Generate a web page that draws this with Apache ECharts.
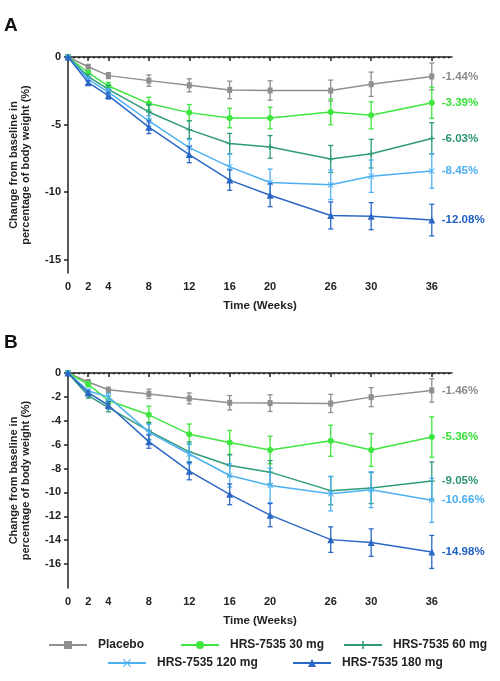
<!DOCTYPE html>
<html lang="en">
<head>
    <meta charset="UTF-8">
    <title>Body weight change</title>
    <script src="https://cdn.jsdelivr.net/npm/echarts@6/dist/echarts.min.js"></script>
    <style>
        * { margin: 0; padding: 0; box-sizing: border-box; }
        body { background: #fff; }
        #chart { width: 500px; height: 681px; }
    </style>
</head>
<body>
    <div id="chart"></div>
    <script>
        // data
        const weeks = [0, 2, 4, 8, 12, 16, 20, 26, 30, 36];
        const groups = ['Placebo', 'HRS-7535 30 mg', 'HRS-7535 60 mg', 'HRS-7535 120 mg', 'HRS-7535 180 mg'];

        // panel A: mean change (%) and error
        const aPlacebo = [0, -0.72, -1.38, -1.75, -2.1, -2.44, -2.48, -2.49, -2.02, -1.44];
        const a30 = [0, -1.15, -2.15, -3.45, -4.12, -4.52, -4.52, -4.07, -4.32, -3.39];
        const a60 = [0, -1.45, -2.4, -4.07, -5.38, -6.41, -6.66, -7.55, -7.16, -6.03];
        const a120 = [0, -1.65, -2.6, -4.74, -6.71, -8.14, -9.3, -9.47, -8.83, -8.45];
        const a180 = [0, -1.9, -2.86, -5.2, -7.23, -9.12, -10.24, -11.74, -11.79, -12.08];
        const aPlaceboErr = [0, 0.12, 0.22, 0.42, 0.48, 0.65, 0.72, 0.78, 0.9, 1.0];
        const a30Err = [0, 0.14, 0.27, 0.47, 0.6, 0.72, 0.8, 0.95, 1.0, 1.15];
        const a60Err = [0, 0.15, 0.3, 0.55, 0.65, 0.75, 0.84, 1.0, 1.06, 1.16];
        const a120Err = [0, 0.15, 0.25, 0.4, 0.6, 0.95, 1.0, 1.1, 1.2, 1.27];
        const a180Err = [0, 0.15, 0.25, 0.47, 0.6, 0.75, 0.85, 1.0, 1.0, 1.17];
        const aEndLabels = ['-1.44%', '-3.39%', '-6.03%', '-8.45%', '-12.08%'];
        const aTicks = [0, -5, -10, -15];

        // panel B
        const bPlacebo = [0, -0.75, -1.4, -1.75, -2.13, -2.49, -2.52, -2.55, -2.02, -1.46];
        const b30 = [0, -0.95, -2.3, -3.5, -5.12, -5.81, -6.45, -5.67, -6.45, -5.36];
        const b60 = [0, -1.9, -2.9, -4.85, -6.6, -7.75, -8.3, -9.85, -9.63, -9.05];
        const b120 = [0, -1.5, -2.0, -4.95, -6.78, -8.58, -9.41, -10.1, -9.77, -10.66];
        const b180 = [0, -1.65, -2.7, -5.75, -8.22, -10.16, -11.9, -13.95, -14.2, -14.98];
        const bPlaceboErr = [0, 0.12, 0.2, 0.39, 0.46, 0.6, 0.7, 0.76, 0.8, 0.98];
        const b30Err = [0, 0.2, 0.35, 0.72, 0.85, 1.0, 1.15, 1.3, 1.37, 1.69];
        const b60Err = [0, 0.2, 0.35, 0.72, 0.83, 0.9, 0.97, 1.18, 1.3, 1.6];
        const b120Err = [0, 0.15, 0.3, 0.66, 0.83, 0.97, 1.45, 1.45, 1.5, 1.85];
        const b180Err = [0, 0.15, 0.3, 0.55, 0.72, 0.87, 0.97, 1.07, 1.15, 1.38];
        const bEndLabels = ['-1.46%', '-5.36%', '-9.05%', '-10.66%', '-14.98%'];
        const bTicks = [0, -2, -4, -6, -8, -10, -12, -14, -16];

        const colors = ['#8f8f8f', '#3fe63f', '#2e9a7a', '#4db0f2', '#2b68c6'];
        const labelColors = ['#8a8a8a', '#36e036', '#2a9474', '#4aaef0', '#1f5fbf'];
        const symbols = [
            'rect',
            'circle',
            'path://M4,0H6V4H10V6H6V10H4V6H0V4H4Z',
            'path://M1,0L5,4L9,0L10,1L6,5L10,9L9,10L5,6L1,10L0,9L4,5L0,1Z',
            'triangle'
        ];
        const symbolSizes = [[5, 6], 6, 6, 6, 7];

        const font = 'Arial, "Liberation Sans", sans-serif';
        const chart = echarts.init(document.getElementById('chart'));

        const panels = [
            { means: [aPlacebo, a30, a60, a120, a180], errs: [aPlaceboErr, a30Err, a60Err, a120Err, a180Err], labels: aEndLabels },
            { means: [bPlacebo, b30, b60, b120, b180], errs: [bPlaceboErr, b30Err, b60Err, b120Err, b180Err], labels: bEndLabels }
        ];

        const series = [];
        panels.forEach((p, pi) => {
            p.means.forEach((m, gi) => {
                const line = {
                    type: 'line',
                    name: groups[gi],
                    xAxisIndex: pi,
                    yAxisIndex: pi,
                    data: weeks.map((w, i) => [w, m[i]]),
                    symbol: symbols[gi],
                    symbolSize: symbolSizes[gi],
                    showAllSymbol: true,
                    color: colors[gi],
                    lineStyle: { width: 1.5, color: colors[gi] },
                    itemStyle: { color: colors[gi] },
                    endLabel: {
                        show: true,
                        distance: 10,
                        formatter: () => p.labels[gi],
                        color: labelColors[gi],
                        fontWeight: 'bold',
                        fontSize: 11.5,
                        fontFamily: font
                    },
                    z: 3 + gi
                };
                if (gi === 0) {
                    line.markLine = {
                        silent: true,
                        symbol: 'none',
                        label: { show: false },
                        lineStyle: { type: [2, 3], color: '#222', width: 1.3 },
                        data: [{ yAxis: 0 }]
                    };
                }
                series.push(line);
                series.push({
                    type: 'custom',
                    xAxisIndex: pi,
                    yAxisIndex: pi,
                    data: weeks.map((w, i) => [w, m[i], p.errs[gi][i]]),
                    z: 3 + gi,
                    renderItem: (params, api) => {
                        const x = api.value(0), y = api.value(1), e = api.value(2);
                        const hi = api.coord([x, y + e]);
                        const lo = api.coord([x, y - e]);
                        const cap = 2.5;
                        const style = { stroke: colors[gi], lineWidth: 1.3 };
                        return {
                            type: 'group',
                            children: [
                                { type: 'line', shape: { x1: hi[0], y1: hi[1], x2: lo[0], y2: lo[1] }, style },
                                { type: 'line', shape: { x1: hi[0] - cap, y1: hi[1], x2: hi[0] + cap, y2: hi[1] }, style },
                                { type: 'line', shape: { x1: lo[0] - cap, y1: lo[1], x2: lo[0] + cap, y2: lo[1] }, style }
                            ]
                        };
                    }
                });
            });
        });

        function xAxisFor(i) {
            return {
                type: 'value',
                gridIndex: i,
                min: 0,
                max: 38,
                name: 'Time (Weeks)',
                nameLocation: 'middle',
                nameGap: 27,
                nameTextStyle: { fontWeight: 'bold', fontSize: 11.5, color: '#222', fontFamily: font },
                axisLine: { lineStyle: { color: '#222', width: 1.5 } },
                axisTick: { show: true, length: 4, customValues: weeks, lineStyle: { color: '#222', width: 1.5 } },
                axisLabel: { customValues: weeks, fontWeight: 'bold', fontSize: 11, color: '#222', margin: 8, fontFamily: font },
                splitLine: { show: false }
            };
        }
        function yAxisFor(i, min, ticks) {
            return {
                type: 'value',
                gridIndex: i,
                min: min,
                max: 0,
                name: 'Change from baseline in\npercentage of body weight (%)',
                nameLocation: 'middle',
                nameGap: 36,
                nameRotate: 90,
                nameTextStyle: { fontWeight: 'bold', fontSize: 11, lineHeight: 12, color: '#222', fontFamily: font },
                axisLine: { show: true, lineStyle: { color: '#222', width: 1.5 } },
                axisTick: { show: true, length: 4, customValues: ticks, lineStyle: { color: '#222', width: 1.5 } },
                axisLabel: { customValues: ticks, fontWeight: 'bold', fontSize: 11, color: '#222', margin: 7, fontFamily: font },
                splitLine: { show: false }
            };
        }

        const legendPos = [[43, 634], [175, 634], [338, 634], [102, 652], [287, 652]];
        const legends = groups.map((g, gi) => ({
            data: [g],
            left: legendPos[gi][0],
            top: legendPos[gi][1],
            itemWidth: 38,
            itemHeight: 10,
            selectedMode: false,
            textStyle: { fontWeight: 'bold', fontSize: 12, color: '#222', fontFamily: font, padding: [0, 0, 0, 6] }
        }));

        chart.setOption({
            animation: false,
            textStyle: { fontFamily: font },
            graphic: [
                { type: 'text', left: 4, top: 16, style: { text: 'A', font: 'bold 19px ' + font, fill: '#111' } },
                { type: 'text', left: 4, top: 333, style: { text: 'B', font: 'bold 19px ' + font, fill: '#111' } }
            ],
            grid: [
                { left: 62, top: 57, width: 390, height: 216 },
                { left: 62, top: 373, width: 390, height: 215 }
            ],
            xAxis: [xAxisFor(0), xAxisFor(1)],
            yAxis: [yAxisFor(0, -16, aTicks), yAxisFor(1, -18, bTicks)],
            legend: legends,
            series: series
        });
    </script>
</body>
</html>
